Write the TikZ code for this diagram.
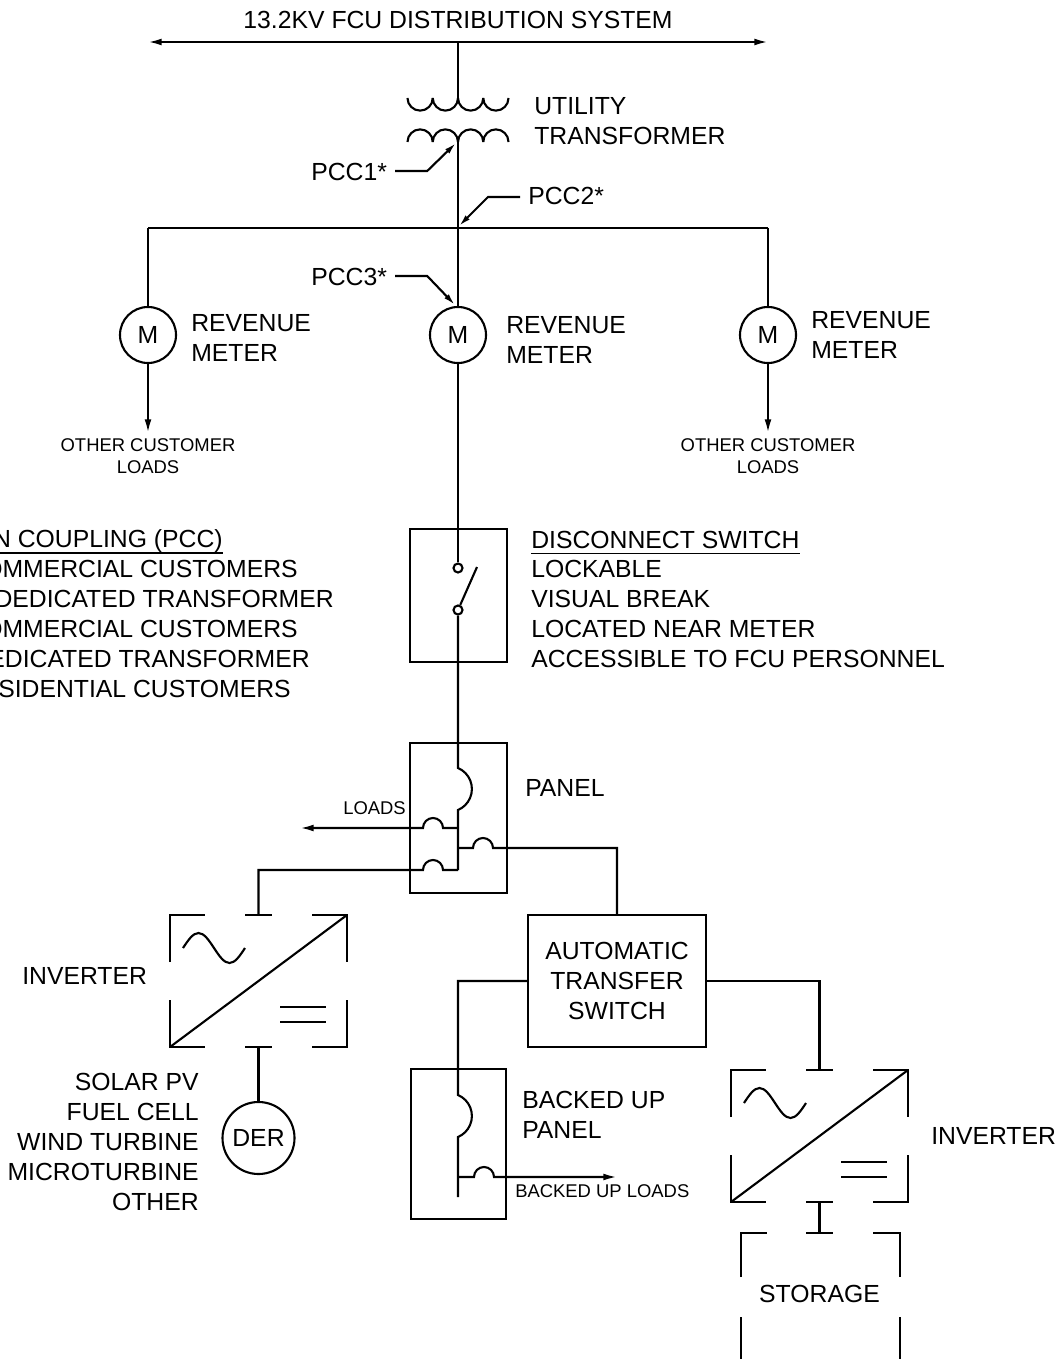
\documentclass[tikz,border=0pt]{standalone}
\usepackage{fontspec}
\setmainfont{Liberation Sans}
\usetikzlibrary{arrows.meta, positioning}
\tikzstyle{wire}  = [draw, line width=1.5pt]
\tikzstyle{feed}  = [wire, -{Latex[length=0.34cm, width=0.17cm]}]
\tikzstyle{lead}  = [wire, -{Latex[length=0.3cm, width=0.15cm]}]
\tikzstyle{uline} = [draw, line width=1.1pt]
\tikzstyle{lbl}   = [inner sep=0pt, font=\fontsize{17.6}{21.3}\selectfont, align=left]
\tikzstyle{small} = [inner sep=0pt, font=\fontsize{13.1}{15.6}\selectfont, align=center]
\tikzstyle{box}   = [draw, line width=1.5pt, rectangle, inner sep=0pt]
\tikzstyle{meter} = [draw, line width=1.5pt, circle, minimum size=1.4cm, inner sep=0pt, font=\fontsize{17.6}{21.3}\selectfont]
\tikzstyle{contact} = [draw, line width=1.5pt, circle, minimum size=0.225cm, inner sep=0pt]

% inverter symbol, #1 = top left corner, #2 = name
\newcommand{\inverter}[2]{%
  \begin{scope}[shift={#1}]
    \draw[wire] (0,-47) -- (0,0) -- (35,0);
    \draw[wire] (75,0) -- (102,0);
    \draw[wire] (142,0) -- (177,0) -- (177,-47);
    \draw[wire] (0,-85) -- (0,-132) -- (35,-132);
    \draw[wire] (75,-132) -- (102,-132);
    \draw[wire] (142,-132) -- (177,-132) -- (177,-85);
    \draw[wire] (0,-132) -- (177,0);
    \draw[wire] (13,-33) sin (28.5,-18) cos (44,-33) sin (59.5,-48) cos (75,-33);
    \draw[wire] (110,-92) -- (156,-92) (110,-107) -- (156,-107);
    \coordinate (#2 top) at (88.5,0);
    \coordinate (#2 bot) at (88.5,-132);
  \end{scope}}

\begin{document}
\begin{tikzpicture}[x=0.025cm, y=0.025cm]

\useasboundingbox (0,0) rectangle (1063,-1359);
\clip (0,0) rectangle (1063,-1359);

% nodes
\node [lbl, anchor=base]            at ( 458 ,  -29 ) (bus)    {13.2KV FCU DISTRIBUTION SYSTEM};
\node [lbl, anchor=north west]      at ( 534 ,  -97 ) (xfmr)   {UTILITY\\TRANSFORMER};
\node [lbl, anchor=base west]       at ( 311 , -181 ) (pcc1)   {PCC1*};
\node [lbl, anchor=base west]       at ( 528 , -205 ) (pcc2)   {PCC2*};
\node [lbl, anchor=base west]       at ( 311 , -285 ) (pcc3)   {PCC3*};

\node [meter] at ( 148 , -335 ) (meterL) {M};
\node [meter] at ( 458 , -335 ) (meterC) {M};
\node [meter] at ( 768 , -335 ) (meterR) {M};
\node [lbl, anchor=north west]      at ( 191 , -314 ) (revL)   {REVENUE\\METER};
\node [lbl, anchor=north west]      at ( 506 , -316 ) (revC)   {REVENUE\\METER};
\node [lbl, anchor=north west]      at ( 811 , -311 ) (revR)   {REVENUE\\METER};
\node [small, anchor=north]         at ( 148 , -438 ) (otherL) {OTHER CUSTOMER\\LOADS};
\node [small, anchor=north]         at ( 768 , -438 ) (otherR) {OTHER CUSTOMER\\LOADS};

% point of coupling notes
\node [lbl, anchor=base east]       at ( 223 , -547 ) (note1)  {N COUPLING (PCC)};
\node [lbl, anchor=base east]       at ( 298 , -577 ) (note2)  {OMMERCIAL CUSTOMERS};
\node [lbl, anchor=base east]       at ( 334 , -607 ) (note3)  {DEDICATED TRANSFORMER};
\node [lbl, anchor=base east]       at ( 298 , -637 ) (note4)  {OMMERCIAL CUSTOMERS};
\node [lbl, anchor=base east]       at ( 310 , -667 ) (note5)  {EDICATED TRANSFORMER};
\node [lbl, anchor=base east]       at ( 291 , -697 ) (note6)  {SIDENTIAL CUSTOMERS};

% disconnect switch
\node [box, minimum width=2.425cm, minimum height=3.325cm] at ( 458.5 , -595.5 ) (dsw) {};
\node [contact] at ( 458 , -568 ) (ctop) {};
\node [contact] at ( 458 , -610 ) (cbot) {};
\node [lbl, anchor=base west]       at ( 531 , -548 ) (dswtitle) {DISCONNECT SWITCH};
\node [lbl, anchor=north west, below=0.3cm of dswtitle.base west, anchor=north west] (dswnotes)
      {LOCKABLE\\VISUAL BREAK\\LOCATED NEAR METER\\ACCESSIBLE TO FCU PERSONNEL};

% panels
\node [box, minimum width=2.425cm, minimum height=3.75cm]  at ( 458.5 ,  -818 ) (panel)  {};
\node [lbl, anchor=base west]       at ( 525 , -796 ) (panellbl) {PANEL};
\node [small, anchor=base west]     at ( 343 , -814 ) (loadslbl) {LOADS};
\node [box, minimum width=2.375cm, minimum height=3.75cm]  at ( 458.5 , -1144 ) (bupanel) {};
\node [lbl, anchor=north west]      at ( 522 , -1091 ) (bulbl)  {BACKED UP\\PANEL};
\node [small, anchor=base west]     at ( 515 , -1197 ) (buloads) {BACKED UP LOADS};

% transfer switch, sources
\node [box, lbl, align=center, minimum width=4.45cm, minimum height=3.3cm] at ( 617 , -981 ) (ats)
      {AUTOMATIC\\TRANSFER\\SWITCH};
\node [meter, minimum size=1.8cm]   at ( 258.5 , -1138 ) (der)  {DER};
\node [lbl, align=right, anchor=north east] at ( 199 , -1073 ) (derlbl)
      {SOLAR PV\\FUEL CELL\\WIND TURBINE\\MICROTURBINE\\OTHER};
\node [lbl, anchor=base west]       at (  22 ,  -984 ) (inv1lbl) {INVERTER};
\node [lbl, anchor=base west]       at ( 931 , -1144 ) (inv2lbl) {INVERTER};
\node [lbl, anchor=base]            at ( 819.5 , -1302 ) (storlbl) {STORAGE};

\inverter{(170,-915)}{inv1}
\inverter{(731,-1070)}{inv2}

% points
\coordinate (busW)    at ( 148 ,  -42 );
\coordinate (busE)    at ( 768 ,  -42 );
\coordinate (busT)    at ( 458 ,  -42 );
\coordinate (coilH)   at ( 458 ,  -98 );
\coordinate (coilX)   at ( 458 , -142 );
\coordinate (tee)     at ( 458 , -228 );
\coordinate (teeW)    at ( 148 , -228 );
\coordinate (teeE)    at ( 768 , -228 );
\coordinate (loadsL)  at ( 148 , -433 );
\coordinate (loadsR)  at ( 768 , -433 );
\coordinate (blade)   at ( 477 , -567 );
\coordinate (brk1)    at ( 458 , -768 );
\coordinate (jload)   at ( 458 , -828 );
\coordinate (jats)    at ( 458 , -848 );
\coordinate (jder)    at ( 458 , -870 );
\coordinate (loadend) at ( 300 , -828 );
\coordinate (brk2)    at ( 458 , -1095 );
\coordinate (jbu)     at ( 458 , -1177 );
\coordinate (buend)   at ( 458 , -1197 );
\coordinate (buload)  at ( 617 , -1177 );
\coordinate (stortop) at ( 819.5 , -1233 );

%  edges
\draw [wire, {Latex[length=0.34cm, width=0.17cm]}-{Latex[length=0.34cm, width=0.17cm]}] (busW) -- (busE);
\draw [wire] (busT) -- (coilH);
\foreach \i in {0,...,3} {
  \draw [wire] ({407.5+25.25*\i},-98)  arc [start angle=180, end angle=360, radius=0.3156cm];
  \draw [wire] ({407.5+25.25*\i},-142) arc [start angle=180, end angle=0,   radius=0.3156cm];
}
\draw [wire] (coilX) -- (tee) -- (meterC);
\draw [wire] (teeW) -- (teeE);
\draw [wire] (teeW) -- (meterL);
\draw [wire] (teeE) -- (meterR);
\draw [feed] (meterL) -- (loadsL);
\draw [feed] (meterR) -- (loadsR);

\draw [lead] ([xshift=0.2cm]pcc1.east |- 0,-171) -- ++(32,0) -- (456,-143);
\draw [lead] ([xshift=-0.2cm]pcc2.west |- 0,-197) -- ++(-32,0) -- (459,-226);
\draw [lead] ([xshift=0.2cm]pcc3.east |- 0,-276) -- ++(32,0) -- (455,-305);

\draw [uline] ([yshift=-0.15cm]note1.base west) -- ([yshift=-0.15cm]note1.base east);
\draw [uline] ([yshift=-0.14cm]dswtitle.base west) -- ([yshift=-0.14cm]dswtitle.base east);

\draw [wire] (meterC) -- (ctop);
\draw [wire] (cbot.66) -- (blade);
\draw [wire] (cbot) -- (brk1) arc [start angle=67, end angle=-67, radius=0.57cm] -- (jder);
\draw [feed] (jload) -- (443,-828) arc [start angle=0, end angle=180, radius=0.25cm] -- (loadend);
\draw [wire] (jder) -- (443,-870) arc [start angle=0, end angle=180, radius=0.25cm] -- (258.5,-870) -- (inv1 top);
\draw [wire] (jats) -- (473,-848) arc [start angle=180, end angle=0, radius=0.25cm] -- (617,-848) -- (ats);
\draw [wire] (inv1 bot) -- (der);

\draw [wire] (ats.west) -- (458,-981) -- (brk2) arc [start angle=67, end angle=-67, radius=0.57cm] -- (buend);
\draw [feed] (jbu) -- (474,-1177) arc [start angle=180, end angle=0, radius=0.25cm] -- (buload);
\draw [wire] (ats.east) -- (819.5,-981) -- (inv2 top);

% storage
\draw [wire] (inv2 bot) -- (stortop);
\draw [wire] (806,-1233) -- (833,-1233);
\draw [wire] (741,-1277) -- (741,-1233) -- (767,-1233);
\draw [wire] (873,-1233) -- (900,-1233) -- (900,-1277);
\draw [wire] (741,-1317) -- (741,-1370);
\draw [wire] (900,-1317) -- (900,-1370);

\end{tikzpicture}
\end{document}
